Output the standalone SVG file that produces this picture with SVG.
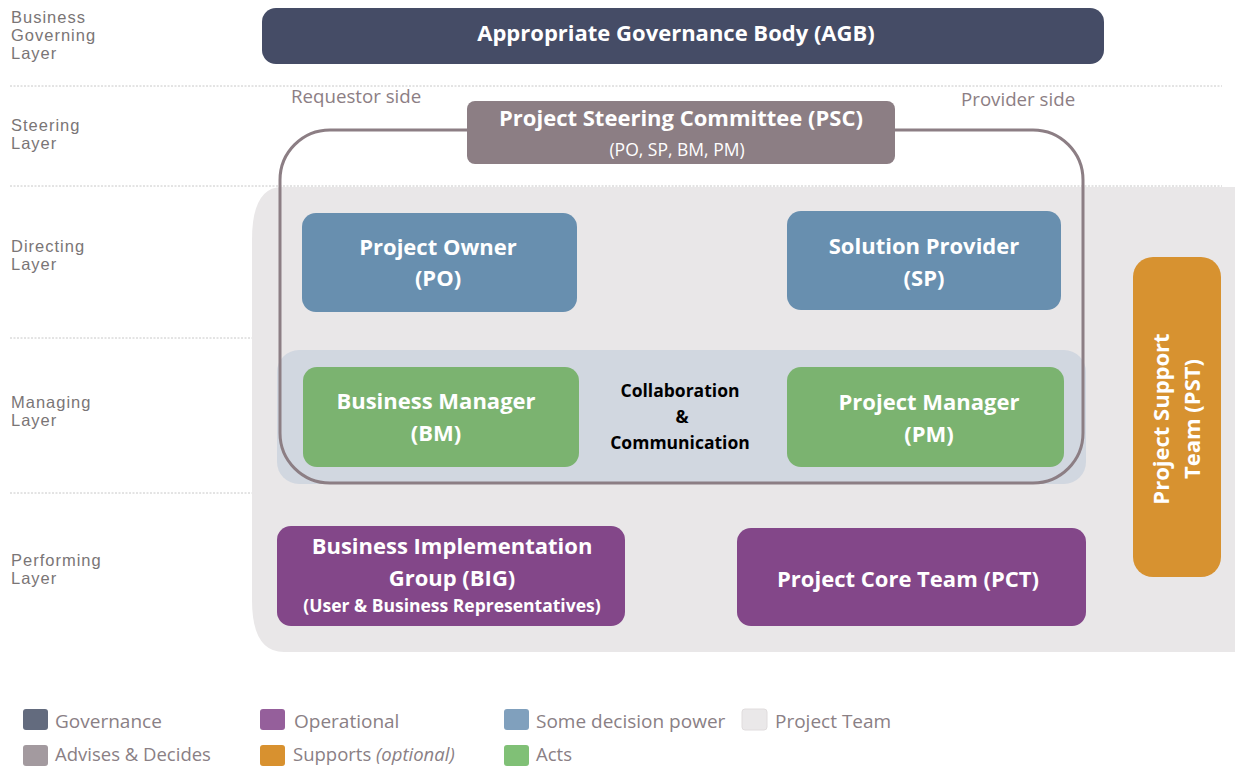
<svg xmlns="http://www.w3.org/2000/svg" width="1235" height="767" viewBox="0 0 1235 767">
<style>
.layer{font-family:"Liberation Sans",Arial,sans-serif;font-size:16.5px;letter-spacing:1px;fill:#7a7576}
.side{font-family:"Open Sans","Liberation Sans",sans-serif;font-size:18.7px;fill:#8c7e84}
.box{font-family:"Open Sans","Liberation Sans",sans-serif;font-weight:bold;font-size:22px;fill:#ffffff;text-anchor:middle}
.sub{font-family:"Open Sans","Liberation Sans",sans-serif;font-size:17.5px;fill:#ffffff;text-anchor:middle}
.collab{font-family:"Open Sans","Liberation Sans",sans-serif;font-weight:bold;font-size:17.5px;fill:#000;text-anchor:middle}
.leg{font-family:"Open Sans","Liberation Sans",sans-serif;font-size:19px;fill:#8a8085}
.leg2{font-family:"Open Sans","Liberation Sans",sans-serif;font-size:18.5px;fill:#8a8085}
.dot{stroke:#c8c8c8;stroke-width:1;stroke-dasharray:2 1.5}
</style>
<rect width="1235" height="767" fill="#ffffff"/>
<g id="layers">
<line class="dot" x1="10" y1="86" x2="1222" y2="86"/>
<line class="dot" x1="10" y1="186" x2="1222" y2="186"/>
<line class="dot" x1="10" y1="338" x2="1120" y2="338"/>
<line class="dot" x1="10" y1="493" x2="1120" y2="493"/>
<text class="layer" x="11" y="23">Business</text>
<text class="layer" x="11" y="41">Governing</text>
<text class="layer" x="11" y="59">Layer</text>
<text class="layer" x="11" y="131">Steering</text>
<text class="layer" x="11" y="149">Layer</text>
<text class="layer" x="11" y="252">Directing</text>
<text class="layer" x="11" y="270">Layer</text>
<text class="layer" x="11" y="408">Managing</text>
<text class="layer" x="11" y="426">Layer</text>
<text class="layer" x="11" y="566">Performing</text>
<text class="layer" x="11" y="584">Layer</text>
</g>
<g id="project-team">
<path d="M282 187 H1235 V652 H284 Q252 652 252 600 V240 Q252 187 282 187 Z" fill="#e9e7e8"/>
</g>
<g id="managing-band">
<rect x="277" y="350" width="809" height="134" rx="22" fill="#d1d7e0"/>
</g>
<g id="agb">
<rect x="262" y="8" width="842" height="56" rx="14" fill="#454c66"/>
<text class="box" x="676" y="41">Appropriate Governance Body (AGB)</text>
</g>
<g id="psc-outline">
<rect x="280" y="130" width="803" height="353" rx="50" fill="none" stroke="#8c7e84" stroke-width="3"/>
</g>
<g id="psc">
<rect x="467" y="101" width="428" height="63" rx="8" fill="#8c7e84"/>
<text class="box" x="681" y="126">Project Steering Committee (PSC)</text>
<text class="sub" x="677" y="156">(PO, SP, BM, PM)</text>
</g>
<text class="side" x="291" y="103">Requestor side</text>
<text class="side" x="961" y="106">Provider side</text>
<g id="po">
<rect x="302" y="213" width="275" height="99" rx="14" fill="#688faf"/>
<text class="box" x="438" y="255">Project Owner</text>
<text class="box" x="438" y="286">(PO)</text>
</g>
<g id="sp">
<rect x="787" y="211" width="274" height="99" rx="14" fill="#688faf"/>
<text class="box" x="924" y="254">Solution Provider</text>
<text class="box" x="924" y="286">(SP)</text>
</g>
<g id="bm">
<rect x="303" y="367" width="276" height="100" rx="14" fill="#7bb370"/>
<text class="box" x="436" y="409">Business Manager</text>
<text class="box" x="436" y="441">(BM)</text>
</g>
<g id="pm">
<rect x="787" y="367" width="277" height="100" rx="14" fill="#7bb370"/>
<text class="box" x="929" y="410">Project Manager</text>
<text class="box" x="929" y="442">(PM)</text>
</g>
<g id="collab">
<text class="collab" x="680" y="397">Collaboration</text>
<text class="collab" x="682" y="423">&amp;</text>
<text class="collab" x="680" y="449">Communication</text>
</g>
<g id="big">
<rect x="277" y="526" width="348" height="100" rx="14" fill="#834789"/>
<text class="box" x="452" y="554">Business Implementation</text>
<text class="box" x="452" y="586">Group (BIG)</text>
<text class="sub" x="452" y="612" style="font-weight:bold">(User &amp; Business Representatives)</text>
</g>
<g id="pct">
<rect x="737" y="528" width="349" height="98" rx="14" fill="#834789"/>
<text class="box" x="908" y="587">Project Core Team (PCT)</text>
</g>
<g id="pst">
<rect x="1133" y="257" width="88" height="320" rx="20" fill="#d79230"/>
<g transform="translate(1177 419) rotate(-90)">
<text class="box" x="0" y="-8">Project Support</text>
<text class="box" x="0" y="23">Team (PST)</text>
</g>
</g>
<g id="legend">
<rect x="23" y="709" width="25" height="21" rx="3" fill="#636b7e"/>
<text class="leg" x="55" y="728">Governance</text>
<rect x="23" y="745" width="25" height="21" rx="3" fill="#a39a9f"/>
<text class="leg2" x="55" y="761">Advises &amp; Decides</text>
<rect x="260" y="709" width="25" height="21" rx="3" fill="#955f9b"/>
<text class="leg" x="294" y="728">Operational</text>
<rect x="260" y="745" width="25" height="21" rx="3" fill="#d8912f"/>
<text class="leg2" x="293" y="761">Supports <tspan font-style="italic">(optional)</tspan></text>
<rect x="504" y="709" width="25" height="21" rx="3" fill="#80a0bd"/>
<text class="leg" x="536" y="728">Some decision power</text>
<rect x="504" y="745" width="25" height="21" rx="3" fill="#80c076"/>
<text class="leg2" x="536" y="761">Acts</text>
<rect x="742" y="709" width="25" height="21" rx="3" fill="#eae8e9" stroke="#e0dcdd"/>
<text class="leg" x="775" y="728">Project Team</text>
</g>
</svg>
